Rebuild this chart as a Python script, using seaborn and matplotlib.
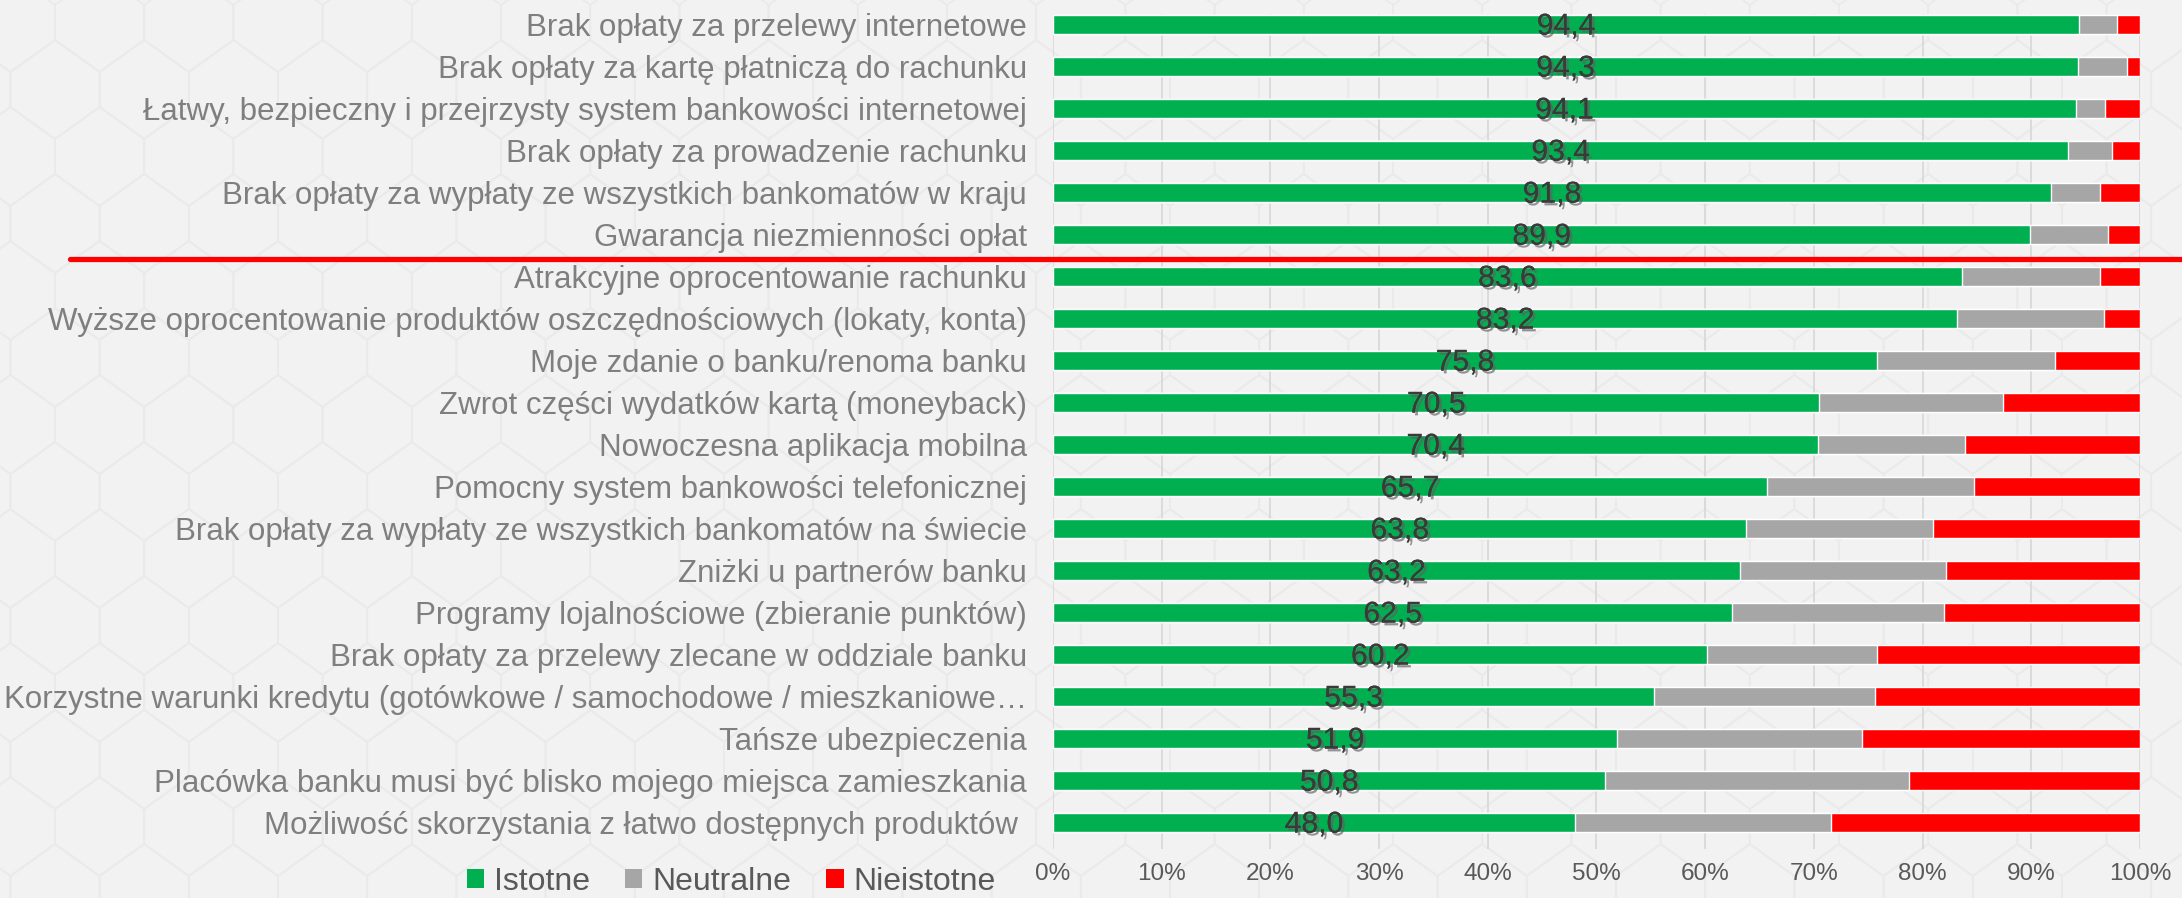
import numpy as np
import pandas as pd
import matplotlib
matplotlib.use("Agg")
import matplotlib.pyplot as plt
import matplotlib.patheffects as pe
import matplotlib.transforms as mtransforms
from matplotlib.collections import LineCollection
from matplotlib.patches import Patch
import seaborn as sns

# Data (percent of respondents)
categories = [
    "Brak opłaty za przelewy internetowe",
    "Brak opłaty za kartę płatniczą do rachunku",
    "Łatwy, bezpieczny i przejrzysty system bankowości internetowej",
    "Brak opłaty za prowadzenie rachunku",
    "Brak opłaty za wypłaty ze wszystkich bankomatów w kraju",
    "Gwarancja niezmienności opłat",
    "Atrakcyjne oprocentowanie rachunku",
    "Wyższe oprocentowanie produktów oszczędnościowych (lokaty, konta)",
    "Moje zdanie o banku/renoma banku",
    "Zwrot części wydatków kartą (moneyback)",
    "Nowoczesna aplikacja mobilna",
    "Pomocny system bankowości telefonicznej",
    "Brak opłaty za wypłaty ze wszystkich bankomatów na świecie",
    "Zniżki u partnerów banku",
    "Programy lojalnościowe (zbieranie punktów)",
    "Brak opłaty za przelewy zlecane w oddziale banku",
    "Korzystne warunki kredytu (gotówkowe / samochodowe / mieszkaniowe…",
    "Tańsze ubezpieczenia",
    "Placówka banku musi być blisko mojego miejsca zamieszkania",
    "Możliwość skorzystania z łatwo dostępnych produktów ",
]
istotne = [94.4, 94.3, 94.1, 93.4, 91.8, 89.9, 83.6, 83.2, 75.8, 70.5,
           70.4, 65.7, 63.8, 63.2, 62.5, 60.2, 55.3, 51.9, 50.8, 48.0]
neutralne = [3.5, 4.5, 2.7, 4.0, 4.5, 7.2, 12.7, 13.5, 16.4, 16.9,
             13.5, 19.0, 17.2, 19.0, 19.5, 15.6, 20.3, 22.5, 28.0, 23.6]
nieistotne = [2.1, 1.2, 3.2, 2.6, 3.7, 2.9, 3.7, 3.3, 7.8, 12.6,
              16.1, 15.3, 19.0, 17.8, 18.0, 24.2, 24.4, 25.6, 21.2, 28.4]
series_names = ["Istotne", "Neutralne", "Nieistotne"]
colors = ["#00B050", "#A6A6A6", "#FF0000"]

df = pd.DataFrame({"kategoria": categories, "Istotne": istotne,
                   "Neutralne": neutralne, "Nieistotne": nieistotne})
df["cum_green"] = df["Istotne"]
df["cum_gray"] = df["Istotne"] + df["Neutralne"]
df["cum_red"] = df["cum_gray"] + df["Nieistotne"]

sns.set_theme(style="white")
plt.rcParams["font.family"] = ["Liberation Sans Narrow", "Liberation Sans", "DejaVu Sans"]

W, H = 2182, 898
fig = plt.figure(figsize=(W / 100, H / 100), dpi=100, facecolor="#F2F2F2")

# faint hexagon pattern in the background
a, h, v = 44.6, 32.0, 35.0
segs = []
for r in range(-1, int(H / (h + v)) + 2):
    cy = 89.5 + r * (h + v)
    off = a if r % 2 else 0.0
    for k in range(-1, int(W / (2 * a)) + 2):
        cx = 55 + off + 2 * k * a
        pts = [(cx, cy - v / 2 - h), (cx + a, cy - v / 2), (cx + a, cy + v / 2),
               (cx, cy + v / 2 + h), (cx - a, cy + v / 2), (cx - a, cy - v / 2),
               (cx, cy - v / 2 - h)]
        pts = [(x / W, 1 - y / H) for x, y in pts]
        segs.append(pts)
fig.add_artist(LineCollection(segs, colors="#EAEAEA", linewidths=1.3,
                              transform=fig.transFigure, zorder=-5))

ax = fig.add_axes([0.4826, 0.0546, 0.4981, 0.9298])
ax.set_facecolor("none")

# stacked bars drawn as layered cumulative bars
for col, color in zip(["cum_red", "cum_gray", "cum_green"], colors[::-1]):
    sns.barplot(data=df, x=col, y="kategoria", orient="h", color=color,
                width=0.45, saturation=1, ax=ax, zorder=3)

ax.set_xlim(0, 100)
ax.set_ylim(19.64, -0.24)
ax.set_xticks(np.arange(0, 101, 10))
ax.set_xticklabels([f"{t}%" for t in range(0, 101, 10)], family="Liberation Sans")
ax.grid(axis="x", color="#D9D9D9", linewidth=1.3, zorder=0)
ax.set_axisbelow(True)
for s in ax.spines.values():
    s.set_visible(False)
ax.set_xlabel("")
ax.set_ylabel("")
ax.tick_params(axis="x", length=0, pad=10, labelsize=17.5, labelcolor="#595959")
ax.tick_params(axis="y", length=0, pad=19, labelsize=22.5, labelcolor="#7F7F7F")

# value labels centred on green segment
shadow = [pe.withSimplePatchShadow(offset=(2, -2), shadow_rgbFace="#5F5F5F", alpha=0.65),
          pe.Normal()]
for i, val in enumerate(istotne):
    ax.text(val / 2, i + 0.06, f"{val:.1f}".replace(".", ","), ha="center", va="center",
            fontsize=21.7, family="Liberation Sans", color="#3A3A3A", zorder=5,
            path_effects=shadow)

# red separator line
trans = mtransforms.blended_transform_factory(fig.transFigure, ax.transData)
ax.plot([0.032, 1.0], [5.6, 5.6], color="#FF0000", linewidth=3.8,
        transform=trans, clip_on=False, zorder=6)

handles = [Patch(facecolor=c, edgecolor="none") for c in colors]
fig.legend(handles, series_names, loc="center", bbox_to_anchor=(0.335, 0.018),
           ncol=3, frameon=False, fontsize=23, handlelength=0.55, handleheight=0.55,
           handletextpad=0.3, columnspacing=1.1, labelcolor="#595959")

fig.savefig("out.png", dpi=100, facecolor=fig.get_facecolor())
